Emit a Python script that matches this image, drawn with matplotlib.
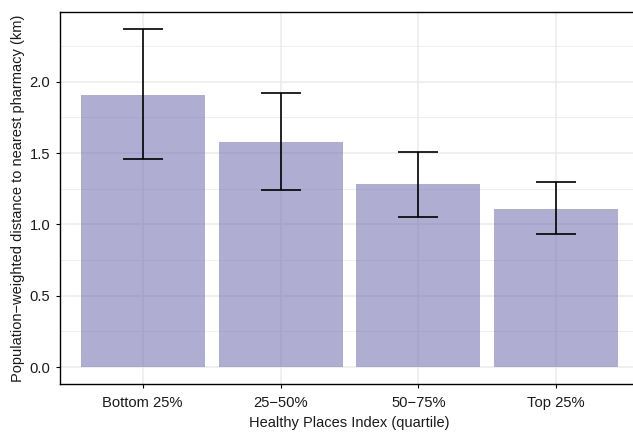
import matplotlib.pyplot as plt
import numpy as np

plt.rcParams['font.family'] = ['Liberation Sans', 'DejaVu Sans']

quartiles = ['Bottom 25%', '25\u221250%', '50\u221275%', 'Top 25%']
mean_dist = [1.91, 1.58, 1.28, 1.11]
ci_low = [1.455, 1.238, 1.049, 0.930]
ci_high = [2.371, 1.923, 1.505, 1.294]

fig = plt.figure(figsize=(6.33, 4.32), dpi=100)
ax = fig.add_axes([60 / 633, 48 / 432, 579 / 633, 372 / 432])

x = np.arange(1, len(quartiles) + 1)
means = np.array(mean_dist)
yerr = [means - np.array(ci_low), np.array(ci_high) - means]

ax.bar(x, means, width=0.9, color='#7570B3', alpha=0.57, zorder=2)
ax.errorbar(x, means, yerr=yerr, fmt='none', ecolor='black', elinewidth=1.2,
            capsize=14.4, capthick=1.2, zorder=3)

ax.set_xlim(0.4, 4.6)
ax.set_ylim(-0.1185, 2.4885)
ax.set_xticks(x)
ax.set_xticklabels(quartiles)
ax.set_yticks([0, 0.5, 1.0, 1.5, 2.0])
ax.set_yticklabels(['0.0', '0.5', '1.0', '1.5', '2.0'])
ax.set_yticks(np.arange(0.25, 2.5, 0.5), minor=True)

ax.grid(which='major', color='#EBEBEB', linewidth=1.1, zorder=0)
ax.grid(which='minor', axis='y', color='#EBEBEB', linewidth=0.55, zorder=0)
ax.set_axisbelow(True)

for side in ['left', 'bottom', 'top']:
    ax.spines[side].set_color('black')
    ax.spines[side].set_linewidth(1.0)
ax.spines['right'].set_visible(False)

ax.tick_params(which='major', length=3, width=0.8, color='black',
               labelsize=10.6, labelcolor='#1a1a1a')
ax.tick_params(axis='x', pad=5.5)
ax.tick_params(axis='y', pad=4)
ax.tick_params(which='minor', length=0)

ax.set_xlabel('Healthy Places Index (quartile)', fontsize=10.5, color='#1a1a1a', labelpad=4.5)
ax.set_ylabel('Population\u2212weighted distance to nearest pharmacy (km)', fontsize=10.5,
              color='#1a1a1a', labelpad=3)

fig.savefig('out.png', dpi=100)
